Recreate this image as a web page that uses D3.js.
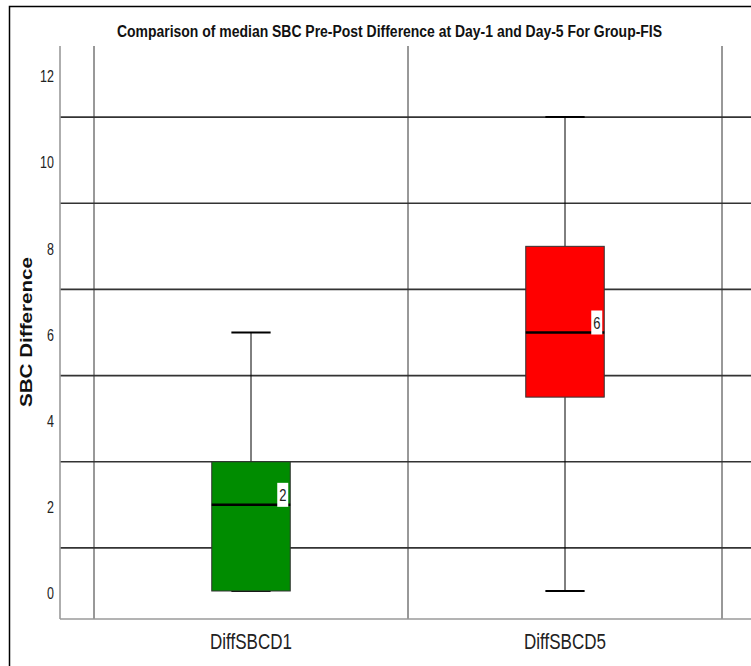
<!DOCTYPE html>
<html>
<head>
<meta charset="utf-8">
<script src="https://cdn.jsdelivr.net/npm/d3@7"></script>
<style>
  html, body { margin: 0; padding: 0; background: #fff; }
  svg { display: block; }
</style>
</head>
<body>
<div id="chart"></div>
<script>
// ---- data ----
const categories = ["DiffSBCD1", "DiffSBCD5"];
const whiskerLow = [0, 0];
const q1Values = [0, 4.5];
const medianValues = [2, 6];
const q3Values = [3, 8];
const whiskerHigh = [6, 11];
const yTickValues = [0, 2, 4, 6, 8, 10, 12];
const gridValues = [1, 3, 5, 7, 9, 11];
const titleText = "Comparison of median SBC Pre-Post Difference at Day-1 and Day-5 For Group-FIS";
const yAxisTitle = "SBC Difference";

// ---- layout ----
const W = 751, H = 666;
const plot = { left: 60, right: 756, top: 46, bottom: 619 };
const fills = ["#008c00", "#ff0000"];
const vStretch = 1.28;

const svg = d3.select("#chart").append("svg")
  .attr("width", W).attr("height", H)
  .style("font-family", "'Liberation Sans', Arial, sans-serif");

// outer frame
svg.append("rect")
  .attr("x", 9.5).attr("y", 6.5).attr("width", 800).attr("height", 700)
  .attr("fill", "#fff").attr("stroke", "#000").attr("stroke-width", 1.5);

const y = d3.scaleLinear().domain([-0.65, 12.65]).range([plot.bottom, plot.top]);
const x = d3.scaleBand().domain(categories).range([94, 722]).padding(0);
const boxW = x.bandwidth() * 0.25;
const capW = boxW * 0.5;

// horizontal gridlines
svg.append("g").selectAll("line").data(gridValues).join("line")
  .attr("x1", plot.left).attr("x2", plot.right)
  .attr("y1", d => y(d)).attr("y2", d => y(d))
  .attr("stroke", "#333").attr("stroke-width", 1.6);

// vertical category boundary lines
const bounds = categories.map(c => x(c)).concat([x(categories[categories.length - 1]) + x.bandwidth()]);
svg.append("g").selectAll("line").data(bounds).join("line")
  .attr("x1", d => d).attr("x2", d => d)
  .attr("y1", plot.top).attr("y2", plot.bottom)
  .attr("stroke", "#333").attr("stroke-width", 1);

// axes lines
svg.append("line").attr("x1", plot.left).attr("x2", plot.left)
  .attr("y1", plot.top).attr("y2", plot.bottom)
  .attr("stroke", "#9a9a9a").attr("stroke-width", 1.6);
svg.append("line").attr("x1", plot.left).attr("x2", plot.right)
  .attr("y1", plot.bottom).attr("y2", plot.bottom)
  .attr("stroke", "#9a9a9a").attr("stroke-width", 1.6);

// y tick labels
svg.append("g").selectAll("text").data(yTickValues).join("text")
  .attr("transform", d => `translate(54,${y(d) + 8.3}) scale(1,${vStretch})`)
  .attr("text-anchor", "end")
  .attr("font-size", 12.5)
  .attr("fill", "#222")
  .text(d => d);

// boxes
const boxes = svg.append("g").selectAll("g").data(categories).join("g");
boxes.each(function (c, i) {
  const g = d3.select(this);
  const cx = x(c) + x.bandwidth() / 2;
  // whiskers
  g.append("line").attr("x1", cx).attr("x2", cx)
    .attr("y1", y(q3Values[i])).attr("y2", y(whiskerHigh[i]))
    .attr("stroke", "#000").attr("stroke-width", 1);
  g.append("line").attr("x1", cx).attr("x2", cx)
    .attr("y1", y(q1Values[i])).attr("y2", y(whiskerLow[i]))
    .attr("stroke", "#000").attr("stroke-width", 1);
  // caps
  [whiskerLow[i], whiskerHigh[i]].forEach(v => {
    g.append("line").attr("x1", cx - capW / 2).attr("x2", cx + capW / 2)
      .attr("y1", y(v)).attr("y2", y(v))
      .attr("stroke", "#000").attr("stroke-width", 2);
  });
  // box
  g.append("rect")
    .attr("x", cx - boxW / 2).attr("width", boxW)
    .attr("y", y(q3Values[i])).attr("height", y(q1Values[i]) - y(q3Values[i]))
    .attr("fill", fills[i]).attr("stroke", "#333").attr("stroke-width", 1);
  // median
  g.append("line").attr("x1", cx - boxW / 2).attr("x2", cx + boxW / 2)
    .attr("y1", y(medianValues[i])).attr("y2", y(medianValues[i]))
    .attr("stroke", "#000").attr("stroke-width", 2.5);
  // median label
  const lw = 11, lh = 24;
  const lx = cx + boxW / 2 - 2 - lw;
  const ly = y(medianValues[i]) + 2 - lh;
  g.append("rect").attr("x", lx).attr("y", ly).attr("width", lw).attr("height", lh)
    .attr("fill", "#fff");
  g.append("text")
    .attr("transform", `translate(${lx + lw / 2},${ly + lh / 2 + 6.5}) scale(1,${vStretch})`)
    .attr("text-anchor", "middle")
    .attr("font-size", 13)
    .attr("fill", "#222")
    .text(medianValues[i]);
});

// x category labels
svg.append("g").selectAll("text").data(categories).join("text")
  .attr("transform", d => `translate(${x(d) + x.bandwidth() / 2},649) scale(1,${vStretch})`)
  .attr("text-anchor", "middle")
  .attr("font-size", 17)
  .attr("fill", "#222")
  .text(d => d);

// y axis title
svg.append("text")
  .attr("transform", "translate(32,332) rotate(-90)")
  .attr("text-anchor", "middle")
  .attr("font-size", 16.5)
  .attr("font-weight", "bold")
  .attr("textLength", 150)
  .attr("lengthAdjust", "spacingAndGlyphs")
  .attr("fill", "#111")
  .text(yAxisTitle);

// title
svg.append("text")
  .attr("x", 389.5).attr("y", 37)
  .attr("text-anchor", "middle")
  .attr("font-family", "'Liberation Sans Narrow', 'Arial Narrow', 'Liberation Sans', Arial, sans-serif")
  .attr("font-size", 16)
  .attr("font-weight", "bold")
  .attr("textLength", 545)
  .attr("lengthAdjust", "spacingAndGlyphs")
  .attr("fill", "#111")
  .text(titleText);
</script>
</body>
</html>
